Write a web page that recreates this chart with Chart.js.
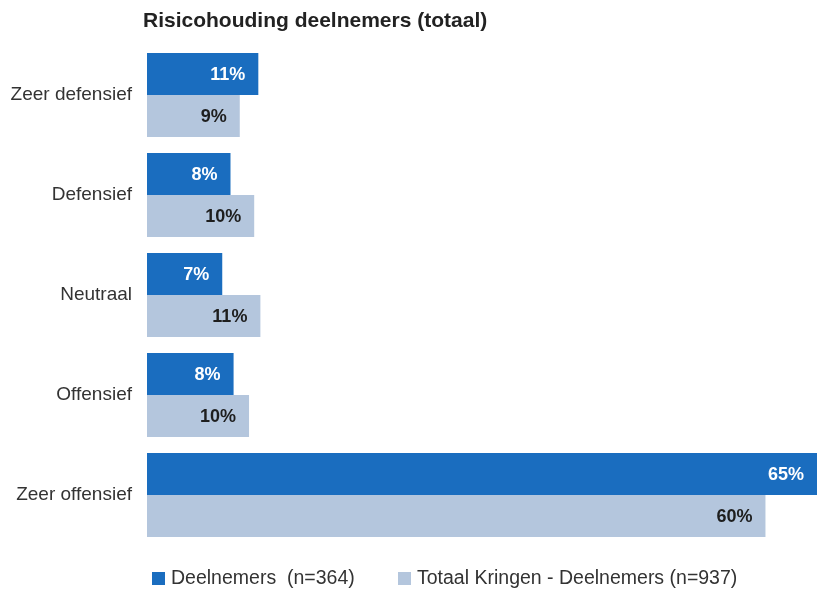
<!DOCTYPE html>
<html lang="nl">
<head>
    <meta charset="UTF-8">
    <title>Risicohouding deelnemers</title>
    <script src="https://cdn.jsdelivr.net/npm/chart.js"></script>
    <style>
        html, body { margin: 0; padding: 0; background: #fff; }
        #wrap { width: 817px; height: 594px; }
    </style>
</head>
<body>
    <div id="wrap"><canvas id="riskChart"></canvas></div>
    <script>
        const categories = ['Zeer defensief', 'Defensief', 'Neutraal', 'Offensief', 'Zeer offensief'];
        const deelnemers = [10.8, 8.1, 7.3, 8.4, 65.0];
        const totaalKringen = [9.0, 10.4, 11.0, 9.9, 60.0];
        const seriesNames = ['Deelnemers  (n=364)', 'Totaal Kringen - Deelnemers (n=937)'];
        const titleText = 'Risicohouding deelnemers (totaal)';

        const darkBlue = '#1a6dbf';
        const lightBlue = '#b4c6dd';
        const fontFamily = '"Liberation Sans", Arial, sans-serif';

        // titel links uitgelijnd, zoals in het origineel
        const titlePlugin = {
            id: 'leftTitle',
            afterDraw(chart) {
                const c = chart.ctx;
                c.save();
                c.font = 'bold 21px ' + fontFamily;
                c.fillStyle = '#222';
                c.textBaseline = 'middle';
                c.textAlign = 'left';
                c.fillText(titleText, 143, 21);
                c.restore();
            }
        };

        // eigen legenda onderaan (ruimere tussenruimte dan de standaard)
        const bottomLegend = {
            id: 'bottomLegend',
            afterDraw(chart) {
                const c = chart.ctx;
                const starts = [152, 398];
                c.save();
                c.font = '19.5px ' + fontFamily;
                c.textBaseline = 'middle';
                c.textAlign = 'left';
                chart.data.datasets.forEach((ds, i) => {
                    c.fillStyle = ds.backgroundColor;
                    c.fillRect(starts[i], 572, 13, 13);
                    c.fillStyle = '#333';
                    c.fillText(ds.label, starts[i] + 19, 579);
                });
                c.restore();
            }
        };

        // percentages aan het einde van de balken
        const valueLabels = {
            id: 'valueLabels',
            afterDatasetsDraw(chart) {
                const c = chart.ctx;
                c.save();
                c.font = 'bold 18px ' + fontFamily;
                c.textAlign = 'right';
                c.textBaseline = 'middle';
                chart.data.datasets.forEach((ds, i) => {
                    chart.getDatasetMeta(i).data.forEach((bar, j) => {
                        c.fillStyle = i === 0 ? '#ffffff' : '#1e1e1e';
                        c.fillText(Math.round(ds.data[j]) + '%', Math.min(bar.x - 13, 810), bar.y + 1);
                    });
                });
                c.restore();
            }
        };

        new Chart(document.getElementById('riskChart'), {
            type: 'bar',
            data: {
                labels: categories,
                datasets: [
                    { label: seriesNames[0], data: deelnemers, backgroundColor: darkBlue },
                    { label: seriesNames[1], data: totaalKringen, backgroundColor: lightBlue }
                ]
            },
            options: {
                indexAxis: 'y',
                responsive: true,
                maintainAspectRatio: false,
                animation: false,
                layout: { padding: { top: 45, right: 0, left: 0, bottom: 49 } },
                datasets: { bar: { categoryPercentage: 0.84, barPercentage: 1.0 } },
                scales: {
                    x: { min: 0, max: 65, display: false },
                    y: {
                        grid: { display: false },
                        border: { display: false },
                        ticks: {
                            color: '#333',
                            padding: 7,
                            font: { family: fontFamily, size: 19 }
                        },
                        afterFit(scale) { scale.width = 147; }
                    }
                },
                plugins: {
                    legend: { display: false },
                    tooltip: { enabled: false }
                }
            },
            plugins: [titlePlugin, valueLabels, bottomLegend]
        });
    </script>
</body>
</html>
